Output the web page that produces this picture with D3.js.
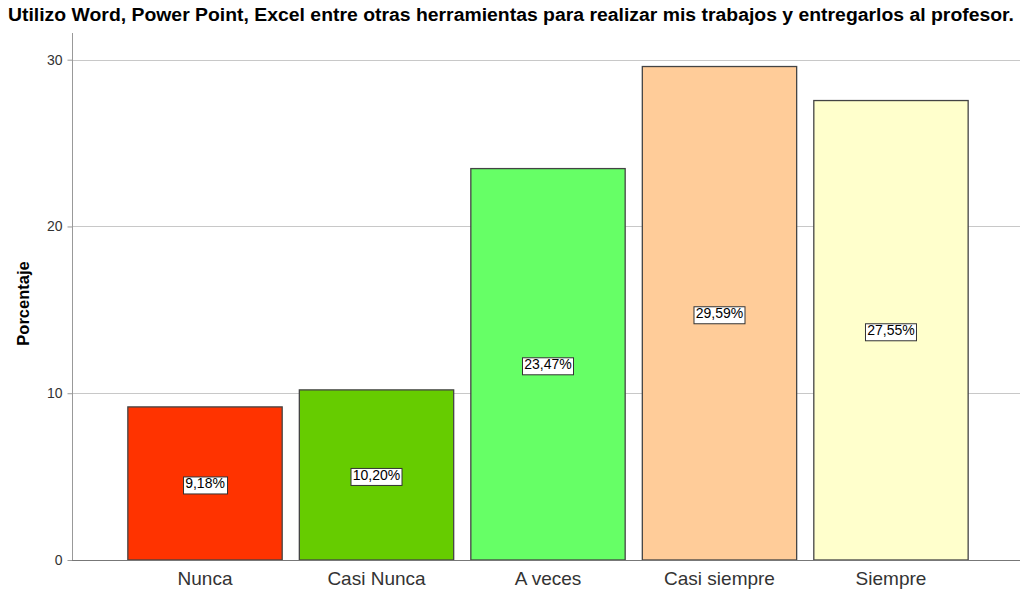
<!DOCTYPE html>
<html>
<head>
<meta charset="utf-8">
<script src="https://cdn.jsdelivr.net/npm/d3@7"></script>
<style>
  body { margin: 0; background: #fff; }
  text { font-family: "Liberation Sans", Arial, sans-serif; }
</style>
</head>
<body>
<div id="app"></div>
<script>
(function (d3) {
  'use strict'

  const categories = ['Nunca', 'Casi Nunca', 'A veces', 'Casi siempre', 'Siempre']
  const values = [9.18, 10.20, 23.47, 29.59, 27.55]
  const labels = ['9,18%', '10,20%', '23,47%', '29,59%', '27,55%']
  const colors = ['#ff3300', '#66cc00', '#66ff66', '#ffcc99', '#ffffcc']
  const yTicks = [0, 10, 20, 30]

  const w = 1021
  const h = 591
  const left = 72, right = 1020, top = 33, bottom = 560

  const svg = d3.select('#app')
  .append('svg')
  .attr('width', w)
  .attr('height', h)

  const x = d3.scaleBand()
  .domain(categories)
  .range([left + 2, right + 2])
  .paddingInner(0.1)
  .paddingOuter(0.314)

  const y = d3.scaleLinear()
  .domain([0, 31.6])
  .range([bottom, top])

  // title
  svg.append('text')
  .attr('x', 8)
  .attr('y', 21)
  .attr('font-size', 17.5)
  .attr('font-weight', 'bold')
  .attr('fill', '#000')
  .attr('textLength', 1006)
  .attr('lengthAdjust', 'spacingAndGlyphs')
  .text('Utilizo Word, Power Point, Excel entre otras herramientas para realizar mis trabajos y entregarlos al profesor.')

  // gridlines
  svg.append('g')
  .selectAll('line')
  .data(yTicks.filter(d => d > 0))
  .enter()
  .append('line')
  .attr('x1', left)
  .attr('x2', right)
  .attr('y1', d => Math.round(y(d)) + 0.5)
  .attr('y2', d => Math.round(y(d)) + 0.5)
  .attr('stroke', '#c8c8c8')

  // y axis
  const yAxis = svg.append('g')
  .attr('transform', `translate(${left + 0.5},0)`)
  .call(d3.axisLeft(y).tickValues(yTicks).tickSize(5).tickPadding(5))
  yAxis.select('.domain').attr('stroke', '#999').attr('d', `M0,${top}V${bottom}`)
  yAxis.selectAll('.tick line').attr('stroke', '#999')
  yAxis.selectAll('.tick text')
  .attr('font-family', '"Liberation Sans", Arial, sans-serif')
  .attr('font-size', 14)
  .attr('fill', '#333')

  svg.append('text')
  .attr('transform', `translate(29,${(top + bottom) / 2 + 7}) rotate(-90)`)
  .attr('text-anchor', 'middle')
  .attr('font-size', 16.5)
  .attr('font-weight', 'bold')
  .attr('fill', '#000')
  .text('Porcentaje')

  // bars
  svg.append('g')
  .selectAll('rect')
  .data(values)
  .enter()
  .append('rect')
  .attr('x', (d, i) => x(categories[i]))
  .attr('y', d => y(d))
  .attr('width', x.bandwidth())
  .attr('height', d => y(0) - y(d))
  .attr('fill', (d, i) => colors[i])
  .attr('stroke', '#444')
  .attr('stroke-width', 1.3)

  // x axis
  const xAxis = svg.append('g')
  .attr('transform', `translate(0,${bottom + 0.5})`)
  .call(d3.axisBottom(x).tickSize(0).tickPadding(11))
  xAxis.select('.domain').attr('stroke', '#777').attr('d', `M${left},0H${right}`)
  xAxis.selectAll('.tick text')
  .attr('font-family', '"Liberation Sans", Arial, sans-serif')
  .attr('font-size', 19)
  .attr('fill', '#333')

  // value labels
  const lab = svg.append('g')
  .selectAll('g')
  .data(values)
  .enter()
  .append('g')
  .attr('transform', (d, i) => `translate(${x(categories[i]) + x.bandwidth() / 2},${y(d / 2)})`)

  lab.append('text')
  .attr('text-anchor', 'middle')
  .attr('dy', '0.35em')
  .attr('font-size', 14)
  .attr('fill', '#000')
  .text((d, i) => labels[i])

  lab.each(function () {
    const g = d3.select(this)
    const bb = g.select('text').node().getBBox()
    g.insert('rect', 'text')
    .attr('x', Math.round(bb.x - 2) + 0.5)
    .attr('y', Math.round(bb.y + 1) + 0.5)
    .attr('width', Math.round(bb.width + 4))
    .attr('height', Math.round(bb.height + 1))
    .attr('fill', '#fff')
    .attr('stroke', '#333')
  })

}(d3))
</script>
</body>
</html>
